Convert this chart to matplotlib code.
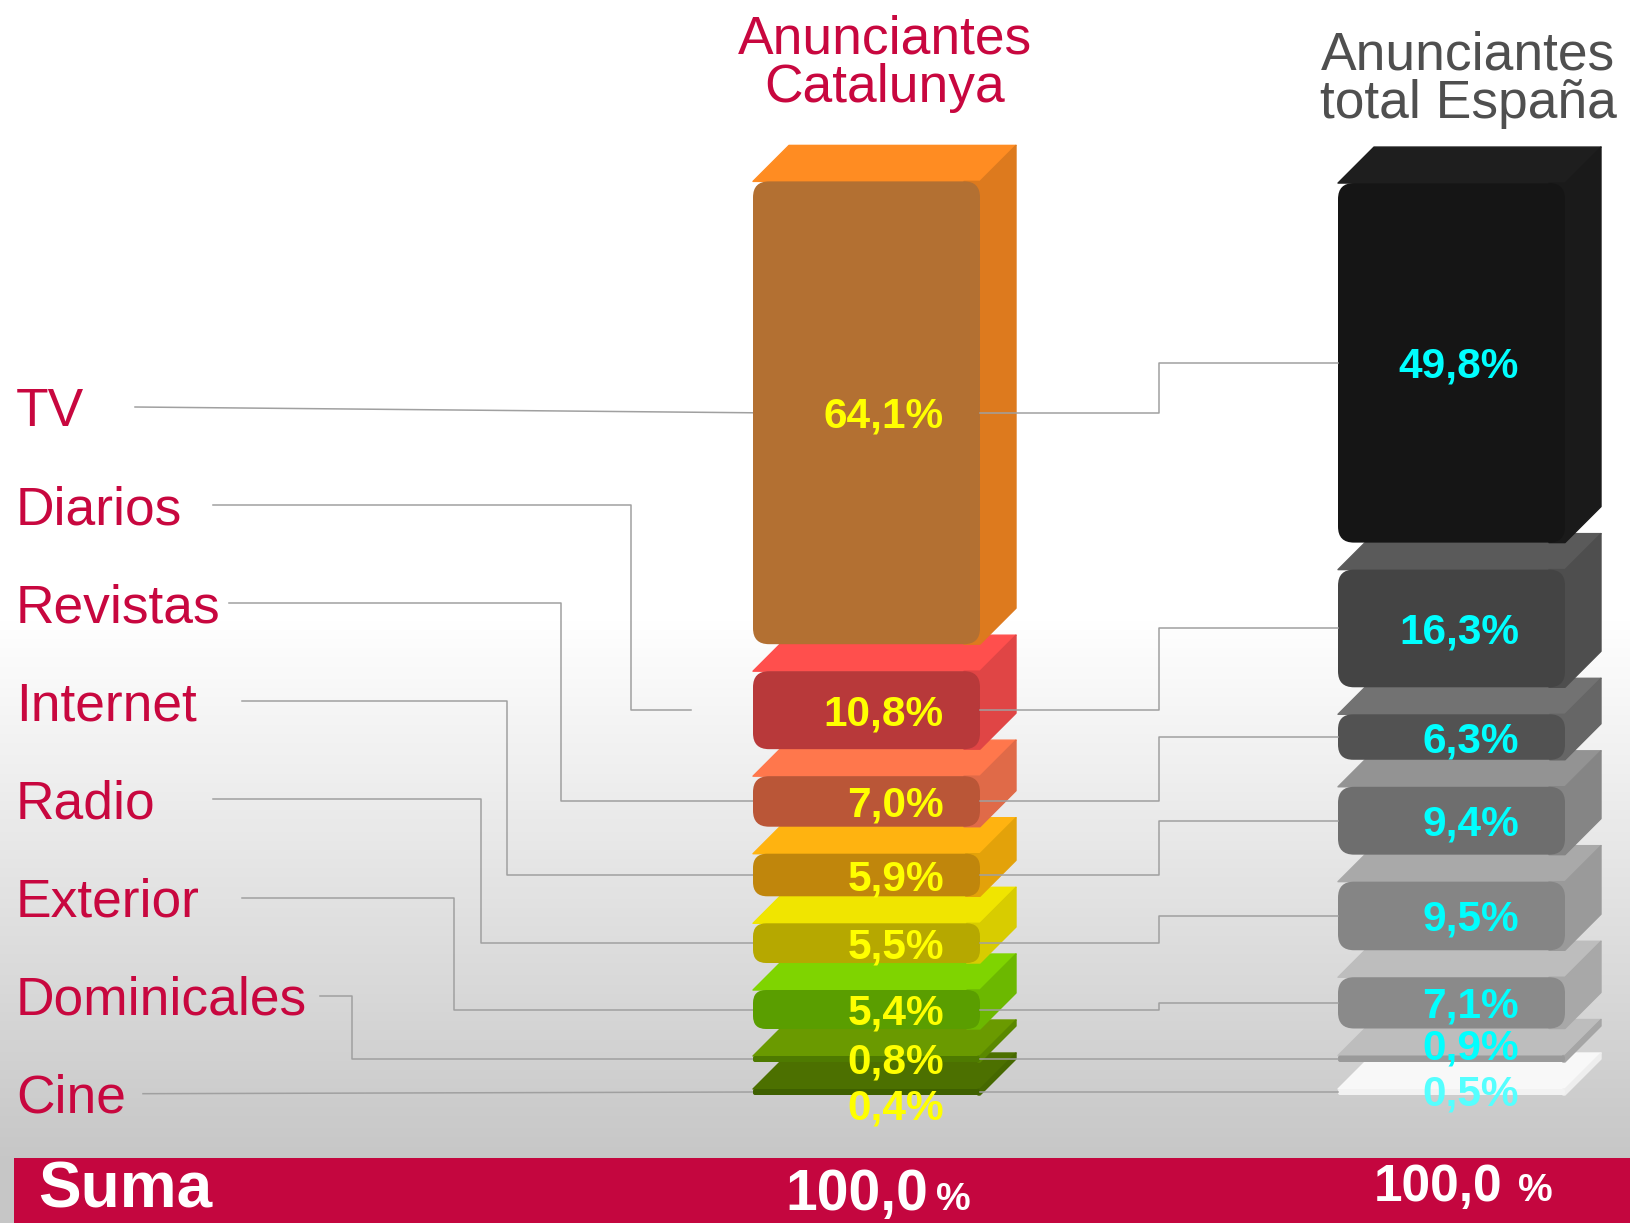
import numpy as np
import matplotlib.pyplot as plt
from matplotlib.patches import Polygon, FancyBboxPatch, Rectangle

# datos (orden de arriba a abajo)
medios = ['TV', 'Diarios', 'Revistas', 'Internet', 'Radio', 'Exterior', 'Dominicales', 'Cine']
catalunya = [64.1, 10.8, 7.0, 5.9, 5.5, 5.4, 0.8, 0.4]
espana = [49.8, 16.3, 6.3, 9.4, 9.5, 7.1, 0.9, 0.5]
suma_cat = '100,0'
suma_esp = '100,0'

# colores: frontal, superior, lateral
col_cat = [('#B37032', '#FF8C22', '#DD7A1E'),
           ('#B8393A', '#FF4F4D', '#E04545'),
           ('#BA5637', '#FF774C', '#E06A48'),
           ('#C0860C', '#FFB310', '#E3A20A'),
           ('#B6A800', '#F0E500', '#D8CC00'),
           ('#5A9E00', '#7FD400', '#6CB800'),
           ('#4E7A00', '#6A9A00', '#5A8800'),
           ('#3E6000', '#4C7000', '#456800')]
col_esp = [('#151515', '#1E1E1E', '#1A1A1A'),
           ('#444444', '#5A5A5A', '#4E4E4E'),
           ('#525252', '#727272', '#666666'),
           ('#6E6E6E', '#939393', '#858585'),
           ('#858585', '#A9A9A9', '#9A9A9A'),
           ('#8A8A8A', '#BDBDBD', '#A8A8A8'),
           ('#9A9A9A', '#BDBDBD', '#A5A5A5'),
           ('#F2F2F2', '#F8F8F8', '#EEEEEE')]

CRIMSON = '#C8073F'
plt.rcParams['font.family'] = ['Liberation Sans', 'DejaVu Sans']

#======================================================================#
# geometry (pixels, y grows downward)
W, H = 1630, 1223
BASE = 1095     # bottom of both stacks
K = 7.22        # px per percent
GAP = 27
HMIN = 6
DEPTH = 36
BAR_W = 227
X_CAT = 753
X_ESP = 1338
#======================================================================#


def stack(values):
    pos = [None] * len(values)
    y = BASE
    for i in range(len(values) - 1, -1, -1):
        h = max(values[i] * K, HMIN)
        pos[i] = (y - h, y)
        y = y - h - GAP
    return pos


def draw_stack(ax, values, x0, colors):
    pos = stack(values)
    x1 = x0 + BAR_W
    z = 3
    for i in range(len(values) - 1, -1, -1):
        top, bot = pos[i]
        front, upper, side = colors[i]
        h = bot - top
        r = min(16, h / 3.0)
        ax.add_patch(Polygon([(x0, top), (x0 + DEPTH, top - DEPTH), (x1 + DEPTH, top - DEPTH), (x1, top)],
                             closed=True, fc=upper, ec=upper, lw=1.0, joinstyle='round', zorder=z))
        ax.add_patch(Polygon([(x1 - r, top), (x1, top), (x1 + DEPTH, top - DEPTH), (x1 + DEPTH, bot - DEPTH),
                              (x1, bot), (x1 - r, bot)],
                             closed=True, fc=side, ec=side, lw=1.0, joinstyle='round', zorder=z + 0.2))
        ax.add_patch(FancyBboxPatch((x0, top), BAR_W, h, boxstyle='round,pad=0,rounding_size=%.2f' % r,
                                    fc=front, ec='none', zorder=z + 0.5))
        z += 1
    return [(t + b) / 2.0 for t, b in pos]


fig = plt.figure(figsize=(16.3, 12.23), dpi=100)
ax = fig.add_axes([0, 0, 1, 1])
ax.set_xlim(0, W)
ax.set_ylim(H, 0)
ax.axis('off')

# fondo degradado
yy = np.linspace(0, H, 400)
g = np.clip((yy - 620) / (1158 - 620), 0, 1)
shade = 1 - 0.22 * g
img = np.dstack([shade, shade, shade]).reshape(-1, 1, 3)
ax.imshow(img, extent=[0, W, H, 0], aspect='auto', zorder=0)

mid_cat = draw_stack(ax, catalunya, X_CAT, col_cat)
mid_esp = draw_stack(ax, espana, X_ESP, col_esp)

# etiquetas de medios y lineas
lab_base = 426
lab_step = 98.1
line_start = [135, 213, 229, 242, 213, 242, 320, 143]
elbow = [None, 631, 561, 507, 481, 454, 352, None]
line_end = [753, 691, 753, 753, 753, 753, 753, 753]
lc = '#A0A0A0'
for i, m in enumerate(medios):
    yb = lab_base + i * lab_step
    ax.text(16, yb, m, color=CRIMSON, fontsize=38.4, ha='left', va='baseline', zorder=5)
    yc = yb - 19
    if elbow[i] is None:
        ax.plot([line_start[i], line_end[i]], [yc, mid_cat[i]], color=lc, lw=1.1, zorder=1)
    else:
        ax.plot([line_start[i], elbow[i], elbow[i], line_end[i]], [yc, yc, mid_cat[i], mid_cat[i]],
                color=lc, lw=1.1, zorder=1)
    # Catalunya -> España
    ax.plot([X_CAT + BAR_W, 1159, 1159, X_ESP], [mid_cat[i], mid_cat[i], mid_esp[i], mid_esp[i]],
            color=lc, lw=1.1, zorder=40)

# valores
dy_cat = [0, 0, 0, 0, 0, 0, 0, 13]
dy_esp = [0, 0, 0, 0, 0, 0, -14, -2]
for i in range(len(medios)):
    ax.text(944, mid_cat[i] + dy_cat[i] + 15, ('%.1f%%' % catalunya[i]).replace('.', ','),
            color='#FFFF00', fontsize=30.5, fontweight='bold', ha='right', va='baseline', zorder=50)
    c = '#00FFFF' if i < 7 else '#55FFFF'
    ax.text(1519, mid_esp[i] + dy_esp[i] + 15, ('%.1f%%' % espana[i]).replace('.', ','),
            color=c, fontsize=30.5, fontweight='bold', ha='right', va='baseline', zorder=50)

# titulos
ax.text(885, 64, 'Anunciantes\nCatalunya', color=CRIMSON, fontsize=38.4, ha='center', va='center',
        linespacing=0.95, zorder=5)
ax.text(1468, 80, 'Anunciantes\ntotal España', color='#4F4F4F', fontsize=38.4, ha='center', va='center',
        linespacing=0.95, zorder=5)

# banda inferior
ax.add_patch(Rectangle((14, 1158), W - 14, H - 1158, fc='#C4063F', ec='none', zorder=60))
ax.text(38, 1208, 'Suma', color='white', fontsize=46, fontweight='bold', ha='left', va='baseline', zorder=61)
ax.text(928, 1210, suma_cat, color='white', fontsize=41, fontweight='bold', ha='right', va='baseline', zorder=61)
ax.text(936, 1210, '%', color='white', fontsize=28, fontweight='bold', ha='left', va='baseline', zorder=61)
ax.text(1502, 1201, suma_esp, color='white', fontsize=37, fontweight='bold', ha='right', va='baseline', zorder=61)
ax.text(1518, 1201, '%', color='white', fontsize=28, fontweight='bold', ha='left', va='baseline', zorder=61)

plt.savefig('out.png', dpi=100)
